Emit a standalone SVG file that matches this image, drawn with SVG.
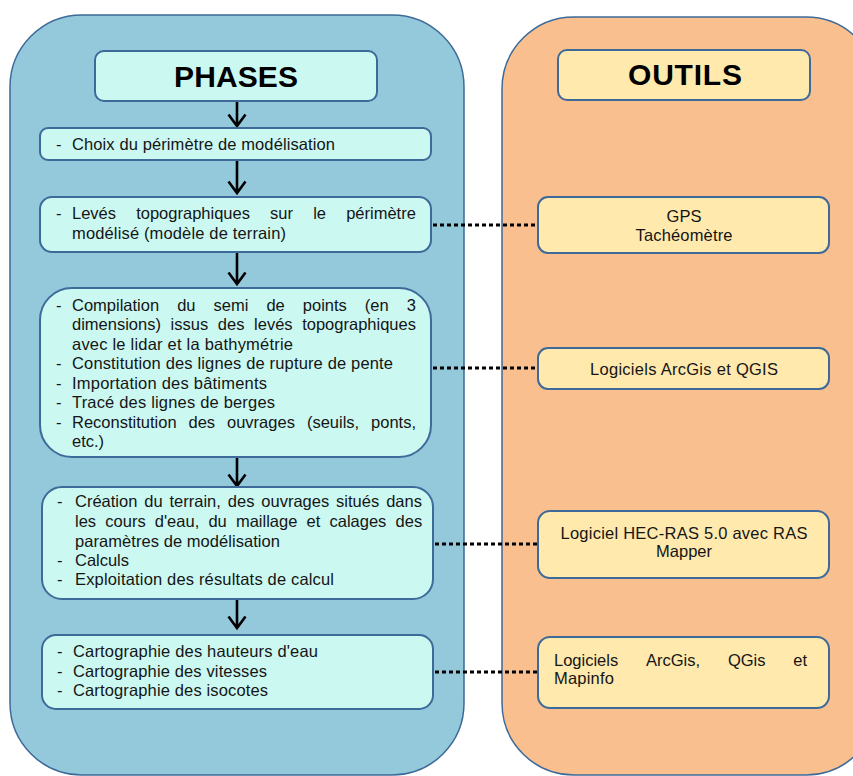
<svg xmlns="http://www.w3.org/2000/svg" width="853" height="776" viewBox="0 0 853 776">
<defs>
<style>
.panelL{fill:#93C9DB;stroke:#3D6A99;stroke-width:1.5}
.panelR{fill:#F9BF8F;stroke:#3D6A99;stroke-width:1.5}
.pb{fill:#CCF8F2;stroke:#3D6A99;stroke-width:2}
.tb{fill:#FFE9AD;stroke:#3D6A99;stroke-width:2}
.t{font-family:"Liberation Sans",Arial,sans-serif;font-size:16.5px;fill:#151515}
.h{font-family:"Liberation Sans",Arial,sans-serif;font-size:30px;font-weight:bold;fill:#000;text-anchor:middle}
.c{text-anchor:middle}
.arr{fill:none;stroke:#000;stroke-width:2.6}
.dot{fill:none;stroke:#000;stroke-width:3;stroke-dasharray:4 3}
</style>
</defs>
<g id="panel-phases"><rect class="panelL" x="10" y="15" width="454" height="760" rx="72"/></g>
<g id="panel-outils"><rect class="panelR" x="502" y="17" width="376" height="758" rx="72"/></g>

<g id="connectors">
<path class="arr" d="M237 101V126M228.5 114.5L237 126L245.5 114.5"/>
<path class="arr" d="M237 160V193M228.5 181.5L237 193L245.5 181.5"/>
<path class="arr" d="M237 252V284M228.5 272.5L237 284L245.5 272.5"/>
<path class="arr" d="M237 457V486M228.5 474.5L237 486L245.5 474.5"/>
<path class="arr" d="M237 599V628M228.5 616.5L237 628L245.5 616.5"/>
<path class="dot" d="M433 225H538"/>
<path class="dot" d="M433 368H538"/>
<path class="dot" d="M435 544H538"/>
<path class="dot" d="M435 672H538"/>
</g>

<g id="phases-title"><rect class="pb" x="95" y="51" width="282" height="50" rx="9"/>
<text class="h" x="236" y="87" textLength="124">PHASES</text></g>

<g id="outils-title"><rect class="tb" x="558" y="50" width="252" height="50" rx="9"/>
<text class="h" x="685" y="85" textLength="114">OUTILS</text></g>

<g id="phase1"><rect class="pb" x="40" y="128" width="391" height="32" rx="8"/>
<text class="t" x="56" y="150">-</text>
<text class="t" x="72" y="150" textLength="263">Choix du périmètre de modélisation</text></g>

<g id="phase2"><rect class="pb" x="40" y="197" width="391" height="55" rx="12"/>
<text class="t" x="56" y="219">-</text>
<text class="t" y="219"><tspan x="72">Levés</tspan><tspan x="136.2">topographiques</tspan><tspan x="270.1">sur</tspan><tspan x="313.2">le</tspan><tspan x="346.2">périmètre</tspan></text>
<text class="t" x="72" y="239" textLength="214">modélisé (modèle de terrain)</text></g>

<g id="phase3"><rect class="pb" x="40" y="288" width="391" height="169" rx="32"/>
<text class="t" x="56" y="311">-</text>
<text class="t" y="311"><tspan x="72">Compilation</tspan><tspan x="177.2">du</tspan><tspan x="213.5">semi</tspan><tspan x="266.4">de</tspan><tspan x="302.8">points</tspan><tspan x="364.8">(en</tspan><tspan x="406.7">3</tspan></text>
<text class="t" y="330"><tspan x="72">dimensions)</tspan><tspan x="170.6">issus</tspan><tspan x="217.8">des</tspan><tspan x="254.1">levés</tspan><tspan x="302.2">topographiques</tspan></text>
<text class="t" x="72" y="350" textLength="221">avec le lidar et la bathymétrie</text>
<text class="t" x="56" y="369">-</text>
<text class="t" x="72" y="369" textLength="321">Constitution des lignes de rupture de pente</text>
<text class="t" x="56" y="389">-</text>
<text class="t" x="72" y="389" textLength="195">Importation des bâtiments</text>
<text class="t" x="56" y="408">-</text>
<text class="t" x="72" y="408" textLength="203">Tracé des lignes de berges</text>
<text class="t" x="56" y="428">-</text>
<text class="t" y="428"><tspan x="72">Reconstitution</tspan><tspan x="188.5">des</tspan><tspan x="227">ouvrages</tspan><tspan x="306.9">(seuils,</tspan><tspan x="371.1">ponts,</tspan></text>
<text class="t" x="72" y="447" textLength="32">etc.)</text></g>

<g id="phase4"><rect class="pb" x="42" y="487" width="391" height="112" rx="20"/>
<text class="t" x="57" y="507">-</text>
<text class="t" y="507"><tspan x="75">Création</tspan><tspan x="144.3">du</tspan><tspan x="169.5">terrain,</tspan><tspan x="227.8">des</tspan><tspan x="261.3">ouvrages</tspan><tspan x="336.1">situés</tspan><tspan x="386.2">dans</tspan></text>
<text class="t" y="527"><tspan x="75">les</tspan><tspan x="105.3">cours</tspan><tspan x="154.8">d'eau,</tspan><tspan x="208.4">du</tspan><tspan x="235.9">maillage</tspan><tspan x="306.5">et</tspan><tspan x="329.5">calages</tspan><tspan x="395.6">des</tspan></text>
<text class="t" x="75" y="547" textLength="205">paramètres de modélisation</text>
<text class="t" x="57" y="566">-</text>
<text class="t" x="75" y="566" textLength="54">Calculs</text>
<text class="t" x="57" y="585">-</text>
<text class="t" x="75" y="585" textLength="259">Exploitation des résultats de calcul</text></g>

<g id="phase5"><rect class="pb" x="42" y="635" width="391" height="74" rx="14"/>
<text class="t" x="57" y="657">-</text>
<text class="t" x="73" y="657" textLength="245">Cartographie des hauteurs d'eau</text>
<text class="t" x="57" y="677">-</text>
<text class="t" x="73" y="677" textLength="194">Cartographie des vitesses</text>
<text class="t" x="57" y="696">-</text>
<text class="t" x="73" y="696" textLength="195">Cartographie des isocotes</text></g>

<g id="tool1"><rect class="tb" x="538" y="197" width="291" height="56" rx="10"/>
<text class="t c" x="684" y="222" textLength="35">GPS</text>
<text class="t c" x="684" y="241" textLength="97">Tachéomètre</text></g>

<g id="tool2"><rect class="tb" x="538" y="348" width="291" height="41" rx="10"/>
<text class="t c" x="684" y="375" textLength="188">Logiciels ArcGis et QGIS</text></g>

<g id="tool3"><rect class="tb" x="538" y="511" width="291" height="67" rx="12"/>
<text class="t c" x="684" y="539" textLength="247">Logiciel HEC-RAS 5.0 avec RAS</text>
<text class="t c" x="684" y="557" textLength="56">Mapper</text></g>

<g id="tool4"><rect class="tb" x="538" y="637" width="291" height="71" rx="12"/>
<text class="t" y="666"><tspan x="554">Logiciels</tspan><tspan x="646">ArcGis,</tspan><tspan x="727.9">QGis</tspan><tspan x="793.3">et</tspan></text>
<text class="t" x="554" y="684" textLength="60">Mapinfo</text></g>
</svg>
